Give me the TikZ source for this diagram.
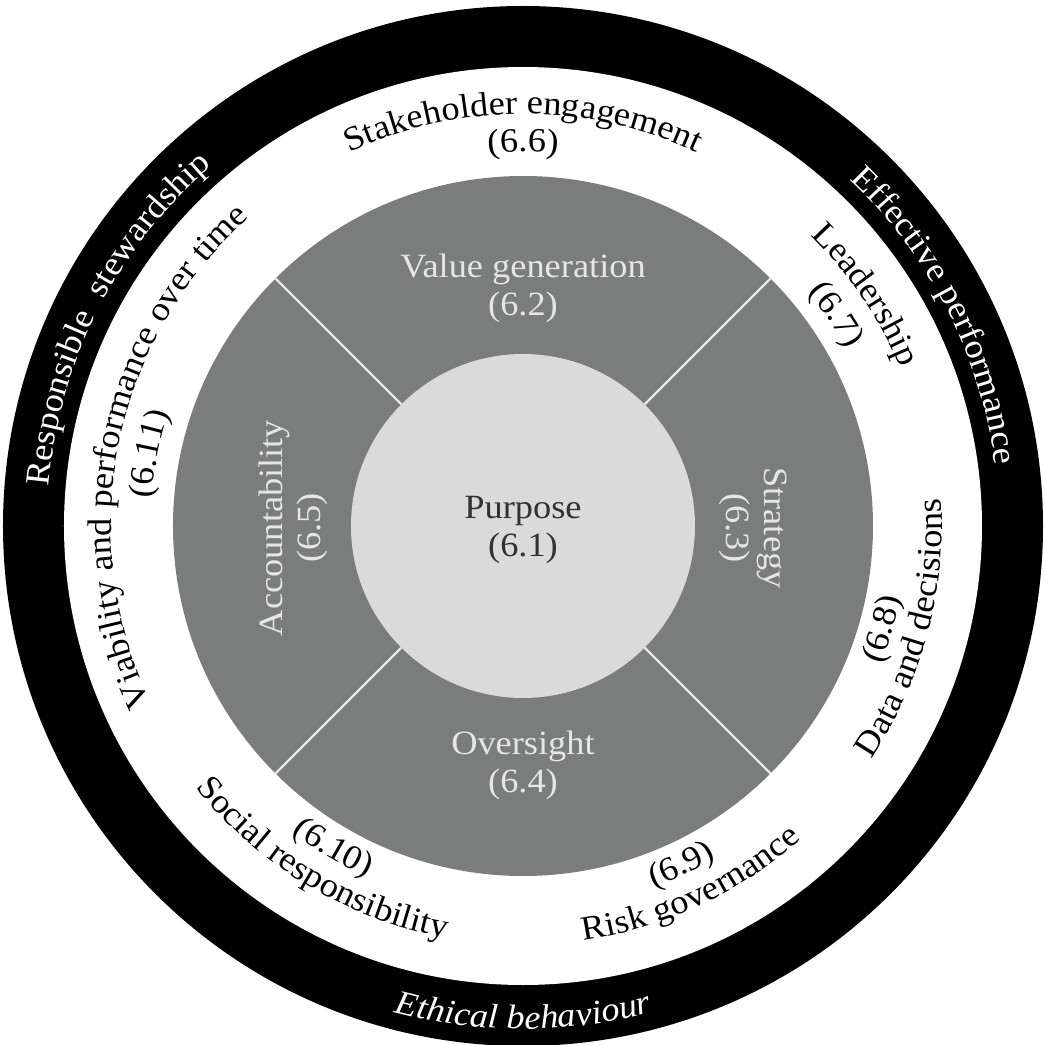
\documentclass[tikz,border=0pt]{standalone}
\usepackage{fontspec}
\setmainfont{Liberation Serif}[FakeStretch=1.07]
\usetikzlibrary{decorations.text}

\definecolor{ringgray}{RGB}{123,125,124}
\definecolor{coregray}{RGB}{218,218,218}
\definecolor{softwhite}{RGB}{230,230,230}
\definecolor{darkink}{RGB}{50,50,50}
\newcommand{\labelfont}{\fontsize{34}{38}\selectfont}

\tikzset{
  arctext/.style={decorate, decoration={text along path, text align=center, text={|\labelfont|#1}}},
  blackarc/.style={arctext={#1}, decoration={text color=white}},
  ringlabel/.style={font=\labelfont, align=center, text=softwhite, inner sep=0pt},
  corelabel/.style={font=\labelfont, align=center, text=darkink, inner sep=0pt}
}

\begin{document}
\begin{tikzpicture}[x=1pt,y=1pt]
\useasboundingbox (-523,-519) rectangle (522,526);

\fill[black] (0,0) circle (520); %OUTER BAND
\fill[white] (0,0) circle (459);
\fill[ringgray] (0,0) circle (350); %MIDDLE RING
\fill[coregray] (0,0) circle (172); %CORE
\draw[softwhite, line width=2.2pt] (45:172) -- (45:350) (135:172) -- (135:350)
  (225:172) -- (225:350) (315:172) -- (315:350);

\node[corelabel] (purpose) at (0,-4) {Purpose\\(6.1)};

\node[ringlabel] (value) at (0,238) {Value generation\\(6.2)};
\node[ringlabel, rotate=-90] (strategy) at (230,-2) {Strategy\\(6.3)};
\node[ringlabel] (oversight) at (0,-239) {Oversight\\(6.4)};
\node[ringlabel, rotate=90] (account) at (-230,-2) {Accountability\\(6.5)};

% white band, reading clockwise
\path[arctext={Stakeholder engagement}] (150:412) arc[start angle=150, end angle=30, radius=412];
\path[arctext={(6.6)}] (150:374) arc[start angle=150, end angle=30, radius=374];
\path[arctext={Leadership}] (94:409) arc[start angle=94, end angle=-26, radius=409];
\path[arctext={(6.7)}] (94:369) arc[start angle=94, end angle=-26, radius=369];
\path[arctext={Viability and performance over time}] (228.5:412) arc[start angle=228.5, end angle=108.5, radius=412];
\path[arctext={(6.11)}] (229:372) arc[start angle=229, end angle=109, radius=372];

% white band, reading anticlockwise
\path[arctext={(6.8)}] (-76:384) arc[start angle=-76, end angle=44, radius=384];
\path[arctext={Data and decisions}] (-75:419) arc[start angle=-75, end angle=45, radius=419];
\path[arctext={(6.9)}] (-125:384) arc[start angle=-125, end angle=-5, radius=384];
\path[arctext={Risk governance}] (-125:419) arc[start angle=-125, end angle=-5, radius=419];
\path[arctext={(6.10)}] (179.5:384) arc[start angle=179.5, end angle=299.5, radius=384];
\path[arctext={Social responsibility}] (179:419) arc[start angle=179, end angle=299, radius=419];

% black band
\path[blackarc={Responsible {\ }stewardship}] (213:476) arc[start angle=213, end angle=93, radius=476];
\path[blackarc={Effective performance}] (87:476) arc[start angle=87, end angle=-33, radius=476];
\path[blackarc={|\labelfont\itshape|Ethical behaviour}] (210:503) arc[start angle=210, end angle=330, radius=503];
\end{tikzpicture}
\end{document}
